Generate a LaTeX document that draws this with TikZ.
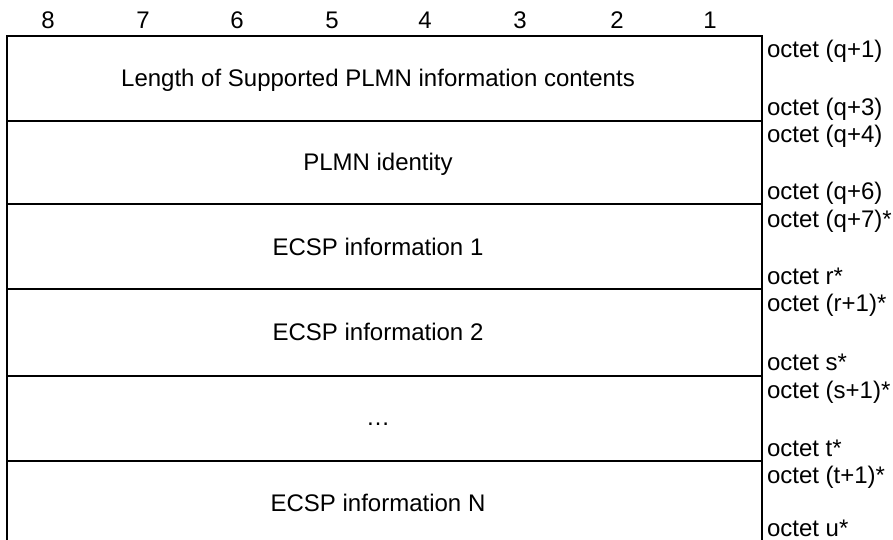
\documentclass[tikz,border=0pt]{standalone}
\usepackage{fontspec}
\setmainfont{Liberation Sans}
\begin{document}
\begin{tikzpicture}[x=1pt,y=-1pt,line width=2pt,
  txt/.style={inner sep=0pt,font=\fontsize{24}{28}\selectfont},
  lbl/.style={txt,anchor=base west},
  cell/.style={txt,anchor=base},
  num/.style={txt,anchor=base}]
\useasboundingbox (0,0) rectangle (893,540);
\clip (0,0) rectangle (893,540);
% frame
\coordinate (tl) at (7,36);
\coordinate (tr) at (762,36);
\coordinate (bl) at (7,548);
\coordinate (br) at (762,548);
\draw (bl) -- (tl) -- (tr) -- (br);
\foreach \y/\k in {121/1,204/2,289/3,376/4,461/5}{
  \coordinate (l\k) at (7,\y);
  \coordinate (r\k) at (762,\y);
  \draw (l\k) -- (r\k);
}
% bit numbers
\foreach \x/\n in {48/8,143/7,237/6,332/5,425/4,520/3,617/2,710/1}
  \node[num] (bit\n) at (\x,29) {\n};
% cell texts
\node[cell] (c1) at (378,87) {Length of Supported PLMN information contents};
\node[cell] (c2) at (378,171) {PLMN identity};
\node[cell] (c3) at (378,255) {ECSP information 1};
\node[cell] (c4) at (378,340) {ECSP information 2};
\node[cell] (c5) at (378,425) {…};
\node[cell] (c6) at (378,511) {ECSP information N};
% octet labels
\node[lbl] (o1a) at (766,58) {octet (q+1)};
\node[lbl] (o1b) at (766,116) {octet (q+3)};
\node[lbl] (o2a) at (766,143) {octet (q+4)};
\node[lbl] (o2b) at (766,199) {octet (q+6)};
\node[lbl] (o3a) at (766,227) {octet (q+7)*};
\node[lbl] (o3b) at (766,284) {octet r*};
\node[lbl] (o4a) at (766,311) {octet (r+1)*};
\node[lbl] (o4b) at (766,370) {octet s*};
\node[lbl] (o5a) at (766,398) {octet (s+1)*};
\node[lbl] (o5b) at (766,456) {octet t*};
\node[lbl] (o6a) at (766,483) {octet (t+1)*};
\node[lbl] (o6b) at (766,536) {octet u*};
\end{tikzpicture}
\end{document}
